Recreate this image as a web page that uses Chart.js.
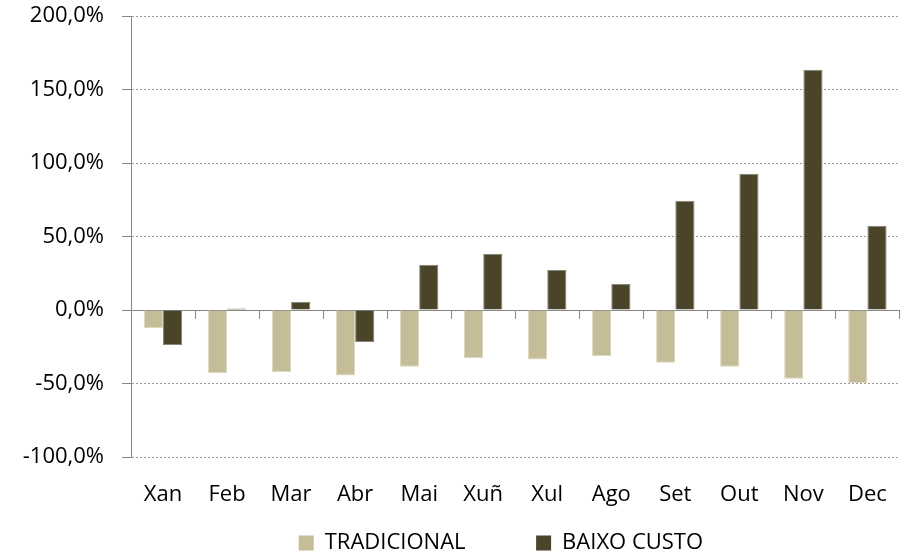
<!DOCTYPE html>
<html lang="gl">
<head>
<meta charset="utf-8">
<title>Tradicional vs Baixo custo</title>
<script src="https://cdn.jsdelivr.net/npm/chart.js@4/dist/chart.umd.min.js"></script>
<style>
  html, body { margin: 0; padding: 0; background: #fff; }
  canvas { display: block; }
</style>
</head>
<body>
<canvas id="variacionChart" width="904" height="554"></canvas>
<script>
// ─────────────────────────────────────────────
// Datos: variación mensual (%)
// ─────────────────────────────────────────────

const meses       = ['Xan', 'Feb', 'Mar', 'Abr', 'Mai', 'Xuñ', 'Xul', 'Ago', 'Set', 'Out', 'Nov', 'Dec'];
const tradicional = [-12.2, -42.9, -42.2, -44.5, -38.6, -32.7, -33.6, -31.3, -35.9, -38.6, -46.7, -49.9];
const baixoCusto  = [-23.8, 1.1, 5.6, -21.8, 30.8, 38.3, 27.2, 17.7, 74.4, 92.7, 163.5, 57.3];

const yMin  = -100;
const yMax  = 200;
const yStep = 50;

// ─────────────────────────────────────────────
// Estilos
// ─────────────────────────────────────────────

const AXIS_GREY = '#868686';
const GRID_GREY = '#9a9a9a';
const AXIS_X    = 131;   // onde cae o eixo vertical

Chart.defaults.font.family = "'Open Sans', sans-serif";
Chart.defaults.font.size   = 22;
Chart.defaults.color       = '#000';

const fmtPct = v => v.toFixed(1).replace('.', ',') + '%';

new Chart(document.getElementById('variacionChart'), {
  type: 'bar',
  data: {
    labels: meses,
    datasets: [
      {
        label          : 'TRADICIONAL',
        data           : tradicional,
        backgroundColor: '#c4bd97',
        borderColor    : '#ddd8c0',
        borderWidth    : 1,
      },
      {
        label          : 'BAIXO CUSTO',
        data           : baixoCusto,
        backgroundColor: '#4a452a',
        borderColor    : '#8a8674',
        borderWidth    : 1,
      }
    ]
  },
  options: {
    responsive        : false,
    animation         : false,
    barPercentage     : 1,
    categoryPercentage: 0.6,
    layout: { padding: { left: 0, right: 4, top: 16, bottom: 0 } },
    plugins: {
      tooltip: { enabled: false },
      legend: {
        position : 'bottom',
        fullSize : false,
        maxHeight: 24,
        labels: {
          padding  : 2,
          boxWidth : 15,
          boxHeight: 15,
          // separación entre as dúas entradas da lenda
          generateLabels: chart =>
            Chart.defaults.plugins.legend.labels.generateLabels(chart).map((item, i) => ({
              ...item,
              text     : item.text + '\u00a0'.repeat(i === 0 ? 12 : 5),
              lineWidth: 0,
            }))
        }
      }
    },
    scales: {
      x: {
        grid  : { display: false },
        border: { display: false },
        ticks : { padding: 17 },
        afterFit: s => { s.height = 73; }
      },
      // eixo horizontal sobre o 0 con marcas entre meses
      x2: {
        type    : 'category',
        position: { y: 0 },
        offset  : true,
        grid: {
          offset         : true,
          drawOnChartArea: false,
          tickLength     : 8,
          tickColor      : AXIS_GREY,
        },
        border: { color: AXIS_GREY, width: 1 },
        ticks : { display: false }
      },
      y: {
        min: yMin,
        max: yMax,
        grid: {
          color     : c => (c.tick && c.tick.value === 0 ? 'transparent' : GRID_GREY),
          tickColor : AXIS_GREY,
          tickLength: 9,
        },
        border: { color: AXIS_GREY, width: 1, dash: [2, 2] },
        ticks: {
          stepSize: yStep,
          padding : 18,
          callback: v => fmtPct(v)
        },
        afterFit: s => {
          s.width      = AXIS_X;
          s.paddingTop = 0;
        }
      }
    }
  }
});
</script>
</body>
</html>
